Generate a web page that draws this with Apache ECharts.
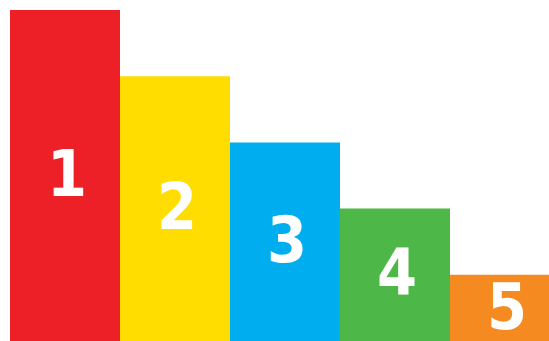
<!DOCTYPE html>
<html lang="en">
<head>
  <meta charset="UTF-8">
  <script src="https://cdn.jsdelivr.net/npm/echarts@6.0.0/dist/echarts.min.js"></script>
  <style>
    html, body { margin: 0; padding: 0; background: #fff; overflow: hidden; }
  </style>
</head>
<body>
  <div id="stepsChart" style="width: 560px;height:341px;"></div>

  <script type="text/javascript">

    var categories = ['1', '2', '3', '4', '5'];
    var values = [5, 4, 3, 2, 1];
    var colors = ['#ED1F27', '#FFDD00', '#00AEEF', '#4DB848', '#F58A20'];

    function createStepsChart() {
        const chart = echarts.init(document.getElementById("stepsChart"));

        const option = {
            animation: false,
            grid: { left: 10, top: 10, right: 0, bottom: 0, containLabel: false },
            xAxis: {
                type: 'category',
                data: categories,
                show: false
            },
            yAxis: {
                type: 'value',
                min: 0,
                max: 5,
                show: false
            },
            series: [{
                type: 'bar',
                barCategoryGap: 0,
                data: values.map((v, i) => ({
                    value: v,
                    itemStyle: { color: colors[i] }
                })),
                label: {
                    show: true,
                    position: 'inside',
                    offset: [2, 4],
                    formatter: (p) => p.name,
                    color: '#fff',
                    fontFamily: '"DejaVu Sans Condensed", "DejaVu Sans", sans-serif',
                    fontWeight: 'bold',
                    fontSize: 64
                }
            }]
        };

        chart.setOption(option);
    }
    createStepsChart();
  </script>
</body>
</html>
